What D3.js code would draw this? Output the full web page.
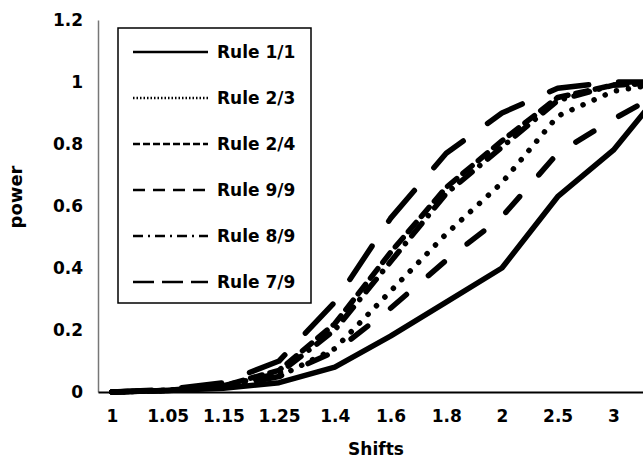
<!DOCTYPE html>
<html>
<head>
<meta charset="utf-8">
<script src="https://cdn.jsdelivr.net/npm/d3@7"></script>
<style>
  html, body { margin: 0; padding: 0; background: #fff; }
  svg { display: block; }
  text { font-family: "DejaVu Sans", sans-serif; font-weight: bold; fill: #000; }
</style>
</head>
<body>
<svg id="chart" width="643" height="460"></svg>
<script>
// shift categories (the last one falls just past the right edge of the picture)
const shifts = ['1', '1.05', '1.15', '1.25', '1.4', '1.6', '1.8', '2', '2.5', '3', '4']
const rules = ['Rule 1/1', 'Rule 2/3', 'Rule 2/4', 'Rule 9/9', 'Rule 8/9', 'Rule 7/9']

// power per shift
const rule11 = [0, 0.005, 0.012, 0.03, 0.08, 0.18, 0.29, 0.40, 0.63, 0.78, 1.0]
const rule23 = [0, 0.005, 0.015, 0.05, 0.14, 0.325, 0.51, 0.675, 0.89, 0.97, 1.0]
const rule24 = [0, 0.005, 0.02, 0.07, 0.22, 0.45, 0.66, 0.81, 0.95, 0.99, 1.0]
const rule99 = [0, 0.005, 0.015, 0.05, 0.13, 0.27, 0.425, 0.565, 0.77, 0.88, 0.98]
const rule89 = [0, 0.005, 0.02, 0.06, 0.20, 0.42, 0.64, 0.79, 0.94, 0.99, 1.0]
const rule79 = [0, 0.008, 0.03, 0.10, 0.29, 0.56, 0.77, 0.90, 0.98, 1.0, 1.0]

const yTicks = [0, 0.2, 0.4, 0.6, 0.8, 1, 1.2]

const series = [rule11, rule23, rule24, rule99, rule89, rule79].map((vals, i) => ({
    name: rules[i],
    values: vals.map((v, j) => ({ shift: shifts[j], value: v }))
}))

// dash styles: [plot dasharray, legend dasharray]
const dashes = {
    'Rule 1/1': ['none', 'none'],
    'Rule 2/3': ['0.1,12', '1.5,2'],
    'Rule 2/4': ['12,8', '7,3'],
    'Rule 9/9': ['21,29', '12,8'],
    'Rule 8/9': ['16,10,0.1,10', '10,5,2,5'],
    'Rule 7/9': ['40,30', '21,8']
}

const W = 643
const svg = d3.select('#chart')

const x = d3.scalePoint()
    .domain(shifts)
    .range([98, 683])
    .padding(0.25)

const y = d3.scaleLinear()
    .domain([0, 1.2])
    .range([392, 20])

const labelStyle = sel => sel
    .style('font-family', '"DejaVu Sans", sans-serif')
    .style('font-weight', 'bold')
    .style('font-size', '17px')
    .attr('fill', '#000')

// y axis
const yAxis = svg.append('g')
    .attr('transform', 'translate(98,0)')
    .call(d3.axisLeft(y).tickValues(yTicks).tickSize(0).tickPadding(15).tickFormat(d => String(d)))
yAxis.select('.domain').attr('stroke', '#777').attr('stroke-width', 1.5)
yAxis.selectAll('text').call(labelStyle)

// x axis
const xAxis = svg.append('g')
    .attr('transform', 'translate(0,392)')
    .call(d3.axisBottom(x).tickSize(0).tickPadding(18))
xAxis.select('.domain').attr('stroke', '#000').attr('stroke-width', 2)
xAxis.selectAll('text').call(labelStyle)
// the last category sits outside the visible area
xAxis.selectAll('.tick').filter(d => x(d) > W).remove()

// axis titles
svg.append('text')
    .attr('x', 376)
    .attr('y', 455)
    .attr('text-anchor', 'middle')
    .style('font-size', '17px')
    .text('Shifts')

svg.append('text')
    .attr('transform', 'translate(22,197) rotate(-90)')
    .attr('text-anchor', 'middle')
    .style('font-size', '18px')
    .text('power')

// lines
const line = d3.line()
    .x(d => x(d.shift))
    .y(d => y(d.value))

svg.append('g')
    .attr('fill', 'none')
    .attr('stroke', '#000')
    .attr('stroke-width', 5.5)
    .attr('stroke-linecap', 'round')
    .attr('stroke-linejoin', 'round')
    .selectAll('path')
    .data(series)
    .join('path')
    .attr('d', d => line(d.values))
    .attr('stroke-dasharray', d => dashes[d.name][0])

// legend
const legend = svg.append('g')

legend.append('rect')
    .attr('x', 118)
    .attr('y', 28)
    .attr('width', 193)
    .attr('height', 275)
    .attr('fill', '#fff')
    .attr('stroke', '#000')
    .attr('stroke-width', 1.5)

const rowY = d3.scalePoint().domain(rules).range([52, 282])

const items = legend.selectAll('g.item')
    .data(rules)
    .join('g')
    .attr('class', 'item')
    .attr('transform', d => `translate(0,${rowY(d)})`)

items.append('line')
    .attr('x1', 133)
    .attr('x2', 208)
    .attr('stroke', '#000')
    .attr('stroke-width', 2.5)
    .attr('stroke-dasharray', d => dashes[d][1])

items.append('text')
    .attr('x', 217)
    .attr('dy', '0.36em')
    .style('font-size', '17px')
    .text(d => d)
</script>
</body>
</html>
